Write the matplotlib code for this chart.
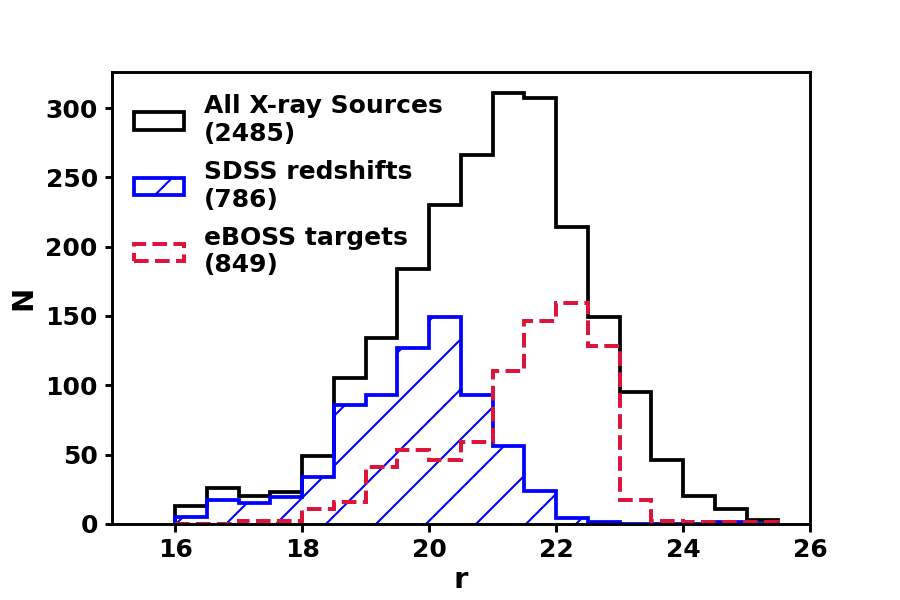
import numpy as np
import matplotlib
matplotlib.use("Agg")
import matplotlib.pyplot as plt
from matplotlib.patches import Patch

bin_edges = np.arange(16.0, 25.51, 0.5)
all_xray = [13, 26, 20, 23, 49, 105, 134, 184, 230, 266, 311, 307, 214, 149, 95, 46, 20, 11, 3]
sdss_z   = [5, 17, 15, 19, 34, 86, 93, 127, 149, 93, 56, 24, 4, 1, 0, 0, 0, 1, 0]
eboss    = [0, 0, 2, 2, 11, 16, 41, 53, 46, 59, 110, 146, 159, 128, 17, 2, 1, 1.5, 1]
labels = ["All X-ray Sources\n(2485)", "SDSS redshifts\n(786)", "eBOSS targets\n(849)"]

plt.rcParams['font.family'] = ['DejaVu Sans']
plt.rcParams['font.weight'] = 'bold'
plt.rcParams['axes.labelweight'] = 'bold'
plt.rcParams['hatch.linewidth'] = 0.5

fig = plt.figure(figsize=(3, 2), dpi=300)
ax = fig.add_axes([0.124, 0.127, 0.776, 0.753])

centers = (bin_edges[:-1] + bin_edges[1:]) / 2
ax.hist(centers, bins=bin_edges, weights=all_xray, histtype='step',
        color='black', linewidth=0.9)
ax.hist(centers, bins=bin_edges, weights=sdss_z, histtype='step',
        color='blue', linewidth=0.9, hatch='//')
ax.hist(centers, bins=bin_edges, weights=eboss, histtype='step',
        color='crimson', linewidth=0.95, linestyle='--')

ax.set_xlim(15, 26)
ax.set_ylim(0, 326)
ax.set_xticks([16, 18, 20, 22, 24, 26])
ax.set_yticks([0, 50, 100, 150, 200, 250, 300])
ax.tick_params(labelsize=6, width=0.7, length=1.8, pad=1.5)
for lab in ax.get_xticklabels() + ax.get_yticklabels():
    lab.set_fontweight('bold')
for s in ax.spines.values():
    s.set_linewidth(0.7)
ax.set_xlabel('r', fontsize=7, fontweight='bold', labelpad=1)
ax.set_ylabel('N', fontsize=7, fontweight='bold', labelpad=2)

handles = [
    Patch(facecolor='none', edgecolor='black', linewidth=0.9),
    Patch(facecolor='none', edgecolor='blue', linewidth=0.9, hatch='//'),
    Patch(facecolor='none', edgecolor='crimson', linewidth=0.95, linestyle='--'),
]
ax.legend(handles, labels, loc='upper left', frameon=False,
          prop={'size': 6, 'weight': 'bold'}, labelspacing=0.55)

fig.savefig('out.png', dpi=300)
